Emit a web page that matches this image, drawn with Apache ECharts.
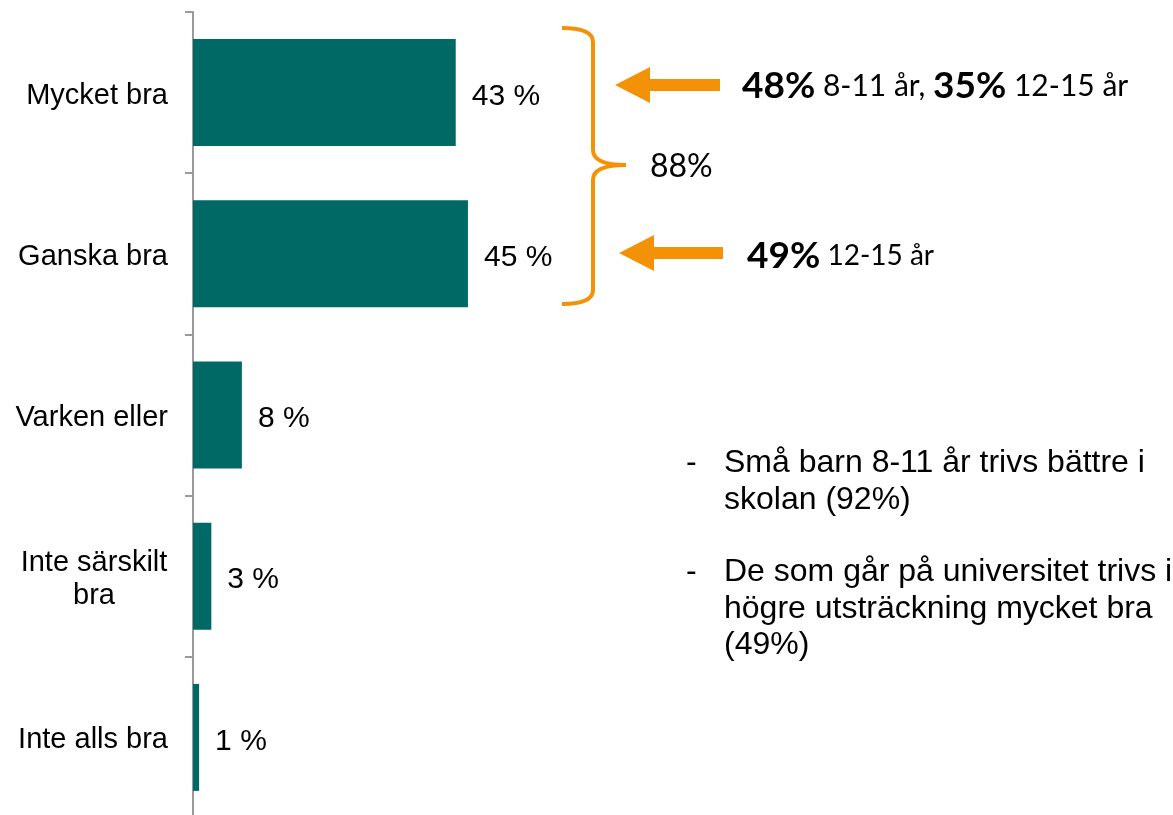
<!DOCTYPE html>
<html>
<head>
<meta charset="utf-8">
<script src="https://cdn.jsdelivr.net/npm/echarts@6/dist/echarts.min.js"></script>
<style>
html, body { margin: 0; padding: 0; background: #fff; }
#chart { width: 1173px; height: 815px; }
</style>
</head>
<body>
<div id="chart"></div>
<script>
// svar
var categories = ['Mycket bra', 'Ganska bra', 'Varken eller', 'Inte särskilt bra', 'Inte alls bra'];
var values = [43, 45, 8, 3, 1];
var totalTop = '88%';
var notes = [
	['Små barn 8-11 år trivs bättre i', 'skolan (92%)'],
	['De som går på universitet trivs i', 'högre utsträckning mycket bra', '(49%)']
];

var orange = '#F39207';
var sans = '"Liberation Sans", Arial';
var cal = 'Lato, "Open Sans", sans-serif';
var chart = echarts.init(document.getElementById('chart'));

// punktlista till höger
var noteTexts = [];
var ny = 445;
notes.forEach(function (lines) {
	noteTexts.push({
		type: 'text', x: 686, y: ny,
		style: { text: '-', font: '32px ' + sans, fill: '#000', lineHeight: 36.5 }
	});
	noteTexts.push({
		type: 'text', x: 724, y: ny,
		style: { text: lines.join('\n'), font: '32px ' + sans, fill: '#000', lineHeight: 36.5 }
	});
	ny += 109;
});

// klammer i bitar
var braceStyle = { stroke: orange, lineWidth: 4, fill: null };
function curve(x1, y1, cx, cy, x2, y2) {
	return { type: 'bezierCurve', shape: { x1: x1, y1: y1, cpx1: cx, cpy1: cy, x2: x2, y2: y2 }, style: braceStyle };
}
function seg(x1, y1, x2, y2) {
	return { type: 'line', shape: { x1: x1, y1: y1, x2: x2, y2: y2 }, style: braceStyle };
}
var brace = [
	curve(562, 28, 593, 28, 593, 42),
	seg(593, 42, 593, 150),
	curve(593, 150, 593, 165, 626, 165),
	curve(626, 165, 593, 165, 593, 180),
	seg(593, 180, 593, 290),
	curve(593, 290, 593, 304, 562, 304)
];

var option = {
	animation: false,
	grid: { left: 193, top: 12, width: 611, height: 806, outerBoundsMode: 'none' },
	xAxis: {
		type: 'value', min: 0, max: 100, show: false
	},
	yAxis: {
		type: 'category',
		inverse: true,
		data: categories,
		axisLine: { lineStyle: { color: '#9a9a9a', width: 2 } },
		axisTick: { show: true, length: 8, lineStyle: { color: '#9a9a9a', width: 2 } },
		axisLabel: {
			margin: 25,
			color: '#000',
			fontFamily: sans,
			fontSize: 29,
			padding: [6, 0, 0, 0],
			formatter: function (v) {
				if (v === 'Inte särskilt bra') return '{c|Inte särskilt}\n{c|bra}';
				return v;
			},
			rich: {
				c: { width: 148, align: 'center', fontSize: 29, lineHeight: 33, fontFamily: sans, color: '#000' }
			}
		}
	},
	series: [{
		type: 'bar',
		data: values,
		barWidth: 107,
		itemStyle: { color: '#006966' },
		label: {
			show: true,
			position: 'right',
			distance: 16,
			offset: [0, 4],
			formatter: '{c} %',
			color: '#000',
			fontFamily: sans,
			fontSize: 30
		}
	}],
	graphic: brace.concat([
		{
			type: 'text', x: 650, y: 167,
			style: { text: totalTop, font: '32px ' + cal, fill: '#000', verticalAlign: 'middle' }
		},
		// pilar
		{
			type: 'polygon',
			shape: { points: [[615, 85], [650, 67], [650, 79], [720, 79], [720, 91], [650, 91], [650, 103]] },
			style: { fill: orange }
		},
		{
			type: 'polygon',
			shape: { points: [[619, 253], [654, 235], [654, 247], [723, 247], [723, 259], [654, 259], [654, 271]] },
			style: { fill: orange }
		},
		{
			type: 'text', x: 742, y: 86,
			style: {
				verticalAlign: 'middle',
				text: '{b|48%}{r| 8-11 år, }{b|35%}{r| 12-15 år}',
				rich: {
					b: { font: 'bold 37px ' + cal, fill: '#000' },
					r: { font: '30px ' + cal, fill: '#000' }
				}
			}
		},
		{
			type: 'text', x: 747, y: 256,
			style: {
				verticalAlign: 'middle',
				text: '{b|49%}{r| 12-15 år}',
				rich: {
					b: { font: 'bold 37px ' + cal, fill: '#000' },
					r: { font: '28px ' + cal, fill: '#000' }
				}
			}
		}
	]).concat(noteTexts)
};
chart.setOption(option);
</script>
</body>
</html>
